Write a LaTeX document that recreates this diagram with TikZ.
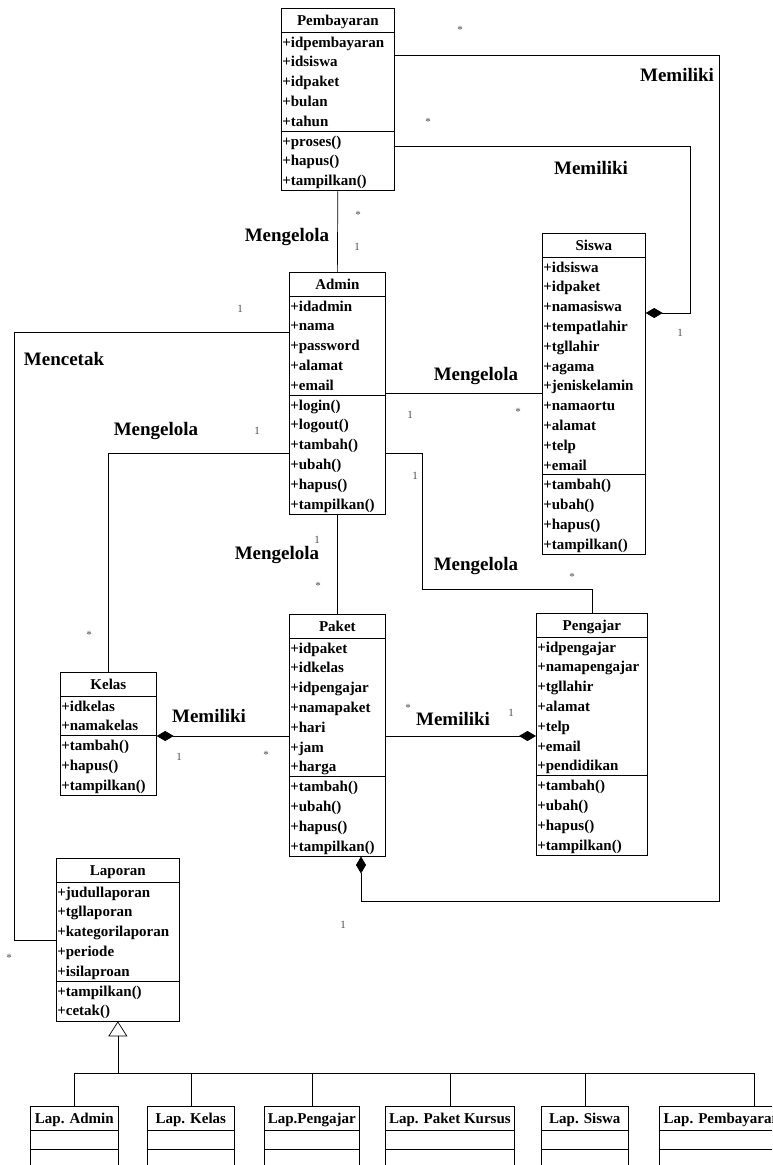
\documentclass[tikz,border=0pt]{standalone}
\usepackage{fontspec}
\setmainfont{Liberation Serif}
\usepackage{tikz}
\usetikzlibrary{calc, shapes, arrows, arrows.meta}
\usetikzlibrary{shapes.misc, positioning}

\def\rowh{19.8}
% class box: name, top left, width, title, attr rows, attrs, method rows, methods
\newcommand{\umlclass}[8]{%
  \node[classbox, minimum width=#3pt, minimum height={24+(#5+#7)*\rowh}] (#1) at #2 {};
  \node[classtitle] (#1-t) at ($(#1.north)+(0,17)$) {#4};
  \draw ($(#1.north west)+(0,24)$) -- ++(#3,0);
  \node[classtext, text width=#3pt] (#1-a) at ($(#1.north west)+(1,39)$) {#6};
  \draw ($(#1.north west)+(0,{24+#5*\rowh})$) -- ++(#3,0);
  \node[classtext, text width=#3pt] (#1-m) at ($(#1.north west)+(1,{39+#5*\rowh})$) {#8};
}

\begin{document}
\begin{tikzpicture}[x=1pt,y=-1pt,line width=0.7pt,
        comp/.style={-{Diamond[length=17pt,width=10pt]}},
        inherit/.style={-{Triangle[open,length=15pt,width=19pt]}}]
        \tikzstyle{classbox}=[draw,anchor=north west,inner sep=0pt]
        \tikzstyle{classtitle}=[anchor=base,inner sep=0pt,font=\fontsize{15}{18}\selectfont\bfseries]
        \tikzstyle{classtext}=[anchor=base west,inner sep=0pt,align=left,font=\fontsize{15}{19.8}\selectfont\bfseries]
        \tikzstyle{rel}=[inner sep=0pt,font=\fontsize{19}{22}\selectfont\bfseries]
        \tikzstyle{mult}=[inner sep=0pt,text=black!70,font=\fontsize{11}{12}\selectfont]
        \path[use as bounding box, clip] (0,0) rectangle (772,1165);

        \umlclass{Pembayaran}{(281,8)}{113}{Pembayaran}{5}{+idpembayaran\\+idsiswa\\+idpaket\\+bulan\\+tahun}{3}{+proses()\\+hapus()\\+tampilkan()}
        \umlclass{Admin}{(289,272)}{96}{Admin}{5}{+idadmin\\+nama\\+password\\+alamat\\+email}{6}{+login()\\+logout()\\+tambah()\\+ubah()\\+hapus()\\+tampilkan()}
        \umlclass{Siswa}{(542,233)}{103}{Siswa}{11}{+idsiswa\\+idpaket\\+namasiswa\\+tempatlahir\\+tgllahir\\+agama\\+jeniskelamin\\+namaortu\\+alamat\\+telp\\+email}{4}{+tambah()\\+ubah()\\+hapus()\\+tampilkan()}
        \umlclass{Kelas}{(60,672)}{96}{Kelas}{2}{+idkelas\\+namakelas}{3}{+tambah()\\+hapus()\\+tampilkan()}
        \umlclass{Paket}{(289,614)}{96}{Paket}{7}{+idpaket\\+idkelas\\+idpengajar\\+namapaket\\+hari\\+jam\\+harga}{4}{+tambah()\\+ubah()\\+hapus()\\+tampilkan()}
        \umlclass{Pengajar}{(536,613)}{111}{Pengajar}{7}{+idpengajar\\+namapengajar\\+tgllahir\\+alamat\\+telp\\+email\\+pendidikan}{4}{+tambah()\\+ubah()\\+hapus()\\+tampilkan()}
        \umlclass{Laporan}{(56,858)}{123}{Laporan}{5}{+judullaporan\\+tgllaporan\\+kategorilaporan\\+periode\\+isilaproan}{2}{+tampilkan()\\+cetak()}
        \umlclass{LapAdmin}{(30,1106)}{88}{Lap. Admin}{1}{}{1}{}
        \umlclass{LapKelas}{(147,1106)}{87}{Lap. Kelas}{1}{}{1}{}
        \umlclass{LapPengajar}{(264,1106)}{95}{Lap.Pengajar}{1}{}{1}{}
        \umlclass{LapPaket}{(385,1106)}{129}{Lap. Paket Kursus}{1}{}{1}{}
        \umlclass{LapSiswa}{(541,1106)}{87}{Lap. Siswa}{1}{}{1}{}
        \umlclass{LapPembayaran}{(659,1106)}{125}{Lap. Pembayaran}{1}{}{1}{}

        % connectors
        \draw (Pembayaran.south) -- (Admin.north);
        \draw[comp] ($(Pembayaran.north east)+(0,138)$) -- ++(296,0) |- ($(Siswa.north east)+(0,80)$);
        \draw[comp] ($(Pembayaran.north east)+(0,47)$) -- ++(325,0) |- ($(Paket.south west)+(72,45)$) -- ($(Paket.south west)+(72,0)$);
        \draw ($(Admin.north east)+(0,121)$) -- ($(Siswa.north west)+(0,160)$);
        \draw ($(Admin.north east)+(0,181)$) -- ++(37,0) |- ($(Pengajar.north)+(0,-24)$) -- (Pengajar.north);
        \draw ($(Admin.north west)+(0,181)$) -| (Kelas.north);
        \draw ($(Admin.north west)+(0,60)$) -- ++(-275,0) |- ($(Laporan.north west)+(0,82)$);
        \draw (Admin.south) -- (Paket.north);
        \draw[comp] ($(Paket.north west)+(0,122)$) -- ($(Kelas.north east)+(0,64)$);
        \draw[comp] ($(Paket.north east)+(0,122)$) -- ($(Pengajar.north west)+(0,123)$);

        % generalization
        \coordinate (gen) at ($(LapAdmin.north -| Laporan.south)+(0,-33)$);
        \draw[inherit] (gen) -- (Laporan.south);
        \draw (LapAdmin.north) |- ($(LapPembayaran.north west)+(95,-33)$) -- ++(0,33);
        \draw (LapKelas.north) -- ++(0,-33);
        \draw (LapPengajar.north) -- ++(0,-33);
        \draw (LapPaket.north) -- ++(0,-33);
        \draw (LapSiswa.north) -- ++(0,-33);

        % association names
        \node[rel] (r1) at (287,237) {Mengelola};
        \node[rel] (r2) at (677,75) {Memiliki};
        \node[rel] (r3) at (591,168) {Memiliki};
        \node[rel] (r4) at (64,359) {Mencetak};
        \node[rel] (r5) at (476,376) {Mengelola};
        \node[rel] (r6) at (156,431) {Mengelola};
        \node[rel] (r7) at (277,555) {Mengelola};
        \node[rel] (r8) at (476,566) {Mengelola};
        \node[rel] (r9) at (209,716) {Memiliki};
        \node[rel] (r10) at (453,719) {Memiliki};

        % multiplicities
        \node[mult] (m1) at (460,30) {*};
        \node[mult] (m2) at (428,122) {*};
        \node[mult] (m3) at (358,215) {*};
        \node[mult] (m4) at (357,247) {1};
        \node[mult] (m5) at (240,309) {1};
        \node[mult] (m6) at (680,333) {1};
        \node[mult] (m7) at (410,415) {1};
        \node[mult] (m8) at (518,412) {*};
        \node[mult] (m9) at (257,431) {1};
        \node[mult] (m10) at (415,476) {1};
        \node[mult] (m11) at (317,540) {1};
        \node[mult] (m12) at (318,586) {*};
        \node[mult] (m13) at (572,577) {*};
        \node[mult] (m14) at (89,635) {*};
        \node[mult] (m15) at (408,708) {*};
        \node[mult] (m16) at (511,713) {1};
        \node[mult] (m17) at (179,757) {1};
        \node[mult] (m18) at (266,755) {*};
        \node[mult] (m19) at (343,925) {1};
        \node[mult] (m20) at (9,958) {*};
     \end{tikzpicture}
\end{document}
